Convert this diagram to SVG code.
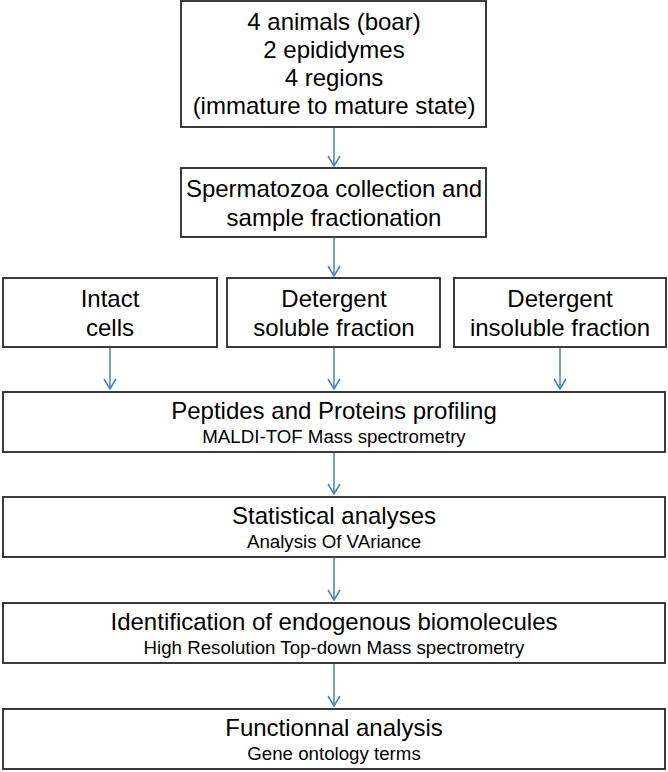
<svg xmlns="http://www.w3.org/2000/svg" width="668" height="772" viewBox="0 0 668 772">
<style>
.box{fill:#fff;stroke:#262626;stroke-width:1.8}
.t{font-family:"Liberation Sans",Arial,sans-serif;font-size:24px;fill:#000;text-anchor:middle}
.s{font-family:"Liberation Sans",Arial,sans-serif;font-size:18.7px;fill:#000;text-anchor:middle}
.c{stroke:#4a7ebb;stroke-width:1.5;fill:none}
</style>
<defs>
<marker id="ah" viewBox="0 0 12 14" refX="11" refY="7" markerWidth="12" markerHeight="14" markerUnits="userSpaceOnUse" orient="auto">
<path d="M1,1 L11,7 L1,13" fill="none" stroke="#4a7ebb" stroke-width="1.5"/>
</marker>
</defs>
<rect width="668" height="772" fill="#fff"/>
<g id="connectors">
<line class="c" x1="334" y1="128" x2="334" y2="166" marker-end="url(#ah)"/>
<line class="c" x1="334" y1="238" x2="334" y2="276" marker-end="url(#ah)"/>
<line class="c" x1="110" y1="348" x2="110" y2="389" marker-end="url(#ah)"/>
<line class="c" x1="334" y1="348" x2="334" y2="389" marker-end="url(#ah)"/>
<line class="c" x1="560" y1="348" x2="560" y2="389" marker-end="url(#ah)"/>
<line class="c" x1="334" y1="453" x2="334" y2="494" marker-end="url(#ah)"/>
<line class="c" x1="334" y1="558" x2="334" y2="600" marker-end="url(#ah)"/>
<line class="c" x1="334" y1="664" x2="334" y2="706" marker-end="url(#ah)"/>
</g>
<g id="n1">
<rect class="box" x="181" y="1" width="305" height="126"/>
<text class="t" x="334" y="30">4 animals (boar)</text>
<text class="t" x="334" y="58">2 epididymes</text>
<text class="t" x="334" y="86">4 regions</text>
<text class="t" x="334" y="114">(immature to mature state)</text>
</g>
<g id="n2">
<rect class="box" x="181" y="168" width="305" height="69"/>
<text class="t" x="334" y="197">Spermatozoa collection and</text>
<text class="t" x="334" y="226">sample fractionation</text>
</g>
<g id="n3">
<rect class="box" x="3" y="278" width="214" height="69"/>
<text class="t" x="110" y="307">Intact</text>
<text class="t" x="110" y="336">cells</text>
</g>
<g id="n4">
<rect class="box" x="227" y="278" width="213" height="69"/>
<text class="t" x="334" y="307">Detergent</text>
<text class="t" x="334" y="336">soluble fraction</text>
</g>
<g id="n5">
<rect class="box" x="454" y="278" width="212" height="69"/>
<text class="t" x="560" y="307">Detergent</text>
<text class="t" x="560" y="336">insoluble fraction</text>
</g>
<g id="n6">
<rect class="box" x="3" y="392" width="662" height="60"/>
<text class="t" x="334" y="419">Peptides and Proteins profiling</text>
<text class="s" x="334" y="443">MALDI-TOF Mass spectrometry</text>
</g>
<g id="n7">
<rect class="box" x="3" y="497" width="662" height="60"/>
<text class="t" x="334" y="524">Statistical analyses</text>
<text class="s" x="334" y="548">Analysis Of VAriance</text>
</g>
<g id="n8">
<rect class="box" x="3" y="603" width="662" height="60"/>
<text class="t" x="334" y="630">Identification of endogenous biomolecules</text>
<text class="s" x="334" y="654">High Resolution Top-down Mass spectrometry</text>
</g>
<g id="n9">
<rect class="box" x="3" y="709" width="662" height="60"/>
<text class="t" x="334" y="736">Functionnal analysis</text>
<text class="s" x="334" y="760">Gene ontology terms</text>
</g>
</svg>
